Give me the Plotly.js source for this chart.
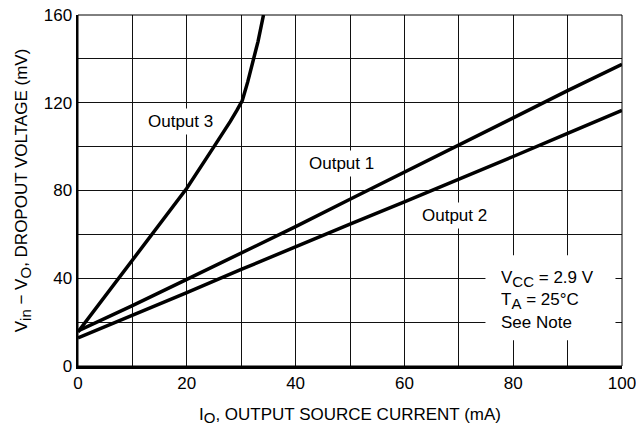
<!DOCTYPE html>
<html>
<head>
<meta charset="utf-8">
<script src="https://cdn.plot.ly/plotly-3.0.1.min.js"></script>
<style>html,body{margin:0;padding:0;background:#fff;}#chart{width:636px;height:434px;}</style>
</head>
<body>
<div id="chart"></div>
<script>
// Data
const out1X = [0, 10, 20, 30, 40, 50, 60, 70, 80, 90, 100];
const out1Y = [16, 27.5, 39.5, 51.5, 63.5, 76, 88.4, 101, 113.5, 125.5, 137.5];

const out2X = [0, 10, 20, 30, 40, 50, 60, 70, 80, 90, 100];
const out2Y = [12.8, 23, 33.5, 44, 54.5, 64.7, 74.8, 85, 95.5, 106, 116.5];

const out3X = [0, 5, 10, 15, 20, 25, 26.5, 28, 29.2, 30.2, 31.2, 32.2, 33.1, 34.1];
const out3Y = [15.5, 32, 48.2, 64.5, 81, 100, 105.5, 111.5, 116.5, 121, 129.5, 139.3, 148, 160];

const xTickVals = [0, 20, 40, 60, 80, 100];
const xTickText = ['0', '20', '40', '60', '80', '100'];
const xMinorVals = [10, 30, 50, 70, 90];
const yTickVals = [0, 40, 80, 120, 160];
const yTickText = ['0', '40', '80', '120', '160'];
const yMinorVals = [20, 60, 100, 140];

const seriesNames = ['Output 1', 'Output 2', 'Output 3'];
const labelX = [48.4, 69.2, 18.9];
const labelY = [92.2, 68.7, 111.5];

const FONT = 'Liberation Sans, Arial, Helvetica, sans-serif';
const FS = 17;
const lineStyle = {color: '#000', width: 3.5};

const traces = [
  {x: out1X, y: out1Y, name: seriesNames[0], mode: 'lines', line: lineStyle, hoverinfo: 'skip'},
  {x: out2X, y: out2Y, name: seriesNames[1], mode: 'lines', line: lineStyle, hoverinfo: 'skip'},
  {x: out3X, y: out3Y, name: seriesNames[2], mode: 'lines', line: lineStyle, hoverinfo: 'skip'}
];

const annotations = seriesNames.map((n, i) => ({
  x: labelX[i], y: labelY[i], xref: 'x', yref: 'y', text: n, showarrow: false,
  bgcolor: '#fff', borderpad: 3, font: {family: FONT, size: FS, color: '#000'}
}));
annotations.push({
  x: 88.1, y: 30.2, xref: 'x', yref: 'y', showarrow: false,
  text: 'V<sub><span style="font-size:15px">CC</span></sub> = 2.9 V<br>T<sub><span style="font-size:15px">A</span></sub> = 25°C<br>See Note',
  align: 'left', valign: 'middle', width: 112, height: 82,
  font: {family: FONT, size: FS, color: '#000'}
});

const layout = {
  width: 636, height: 434,
  margin: {l: 78, r: 14, t: 15, b: 68},
  paper_bgcolor: '#fff', plot_bgcolor: '#fff',
  showlegend: false,
  font: {family: FONT, size: FS, color: '#000'},
  xaxis: {
    range: [0, 100], tickmode: 'array', tickvals: xTickVals, ticktext: xTickText,
    showgrid: true, gridcolor: '#111', gridwidth: 1, zeroline: false,
    showline: true, linecolor: '#000', linewidth: 2.5, ticks: '',
    ticklabeloverflow: 'allow',
    minor: {tickmode: 'array', tickvals: xMinorVals, showgrid: true, gridcolor: '#111', gridwidth: 1, ticks: ''},
    tickfont: {family: FONT, size: FS},
    title: {text: 'I<sub><span style="font-size:15px">O</span></sub>, OUTPUT SOURCE CURRENT (mA)', font: {family: FONT, size: FS}, standoff: 16},
    fixedrange: true
  },
  yaxis: {
    range: [0, 160], tickmode: 'array', tickvals: yTickVals, ticktext: yTickText,
    showgrid: true, gridcolor: '#111', gridwidth: 1, zeroline: false,
    showline: true, linecolor: '#000', linewidth: 2.5, ticks: '',
    ticklabeloverflow: 'allow',
    minor: {tickmode: 'array', tickvals: yMinorVals, showgrid: true, gridcolor: '#111', gridwidth: 1, ticks: ''},
    tickfont: {family: FONT, size: FS},
    title: {text: 'V<sub><span style="font-size:15px">in</span></sub> − V<sub><span style="font-size:15px">O</span></sub>, DROPOUT VOLTAGE (mV)', font: {family: FONT, size: FS}, standoff: 12},
    fixedrange: true
  },
  shapes: [
    {type: 'rect', xref: 'x', yref: 'y', x0: 74.9, x1: 98.8, y0: 11.7, y1: 50.5, layer: 'between', fillcolor: '#fff', line: {width: 0}},
    {type: 'rect', xref: 'paper', yref: 'paper', x0: 0, x1: 1, y0: 0, y1: 1, line: {color: '#000', width: 1}}
  ],
  annotations: annotations
};

Plotly.newPlot('chart', traces, layout, {staticPlot: true, displayModeBar: false});
</script>
</body>
</html>
